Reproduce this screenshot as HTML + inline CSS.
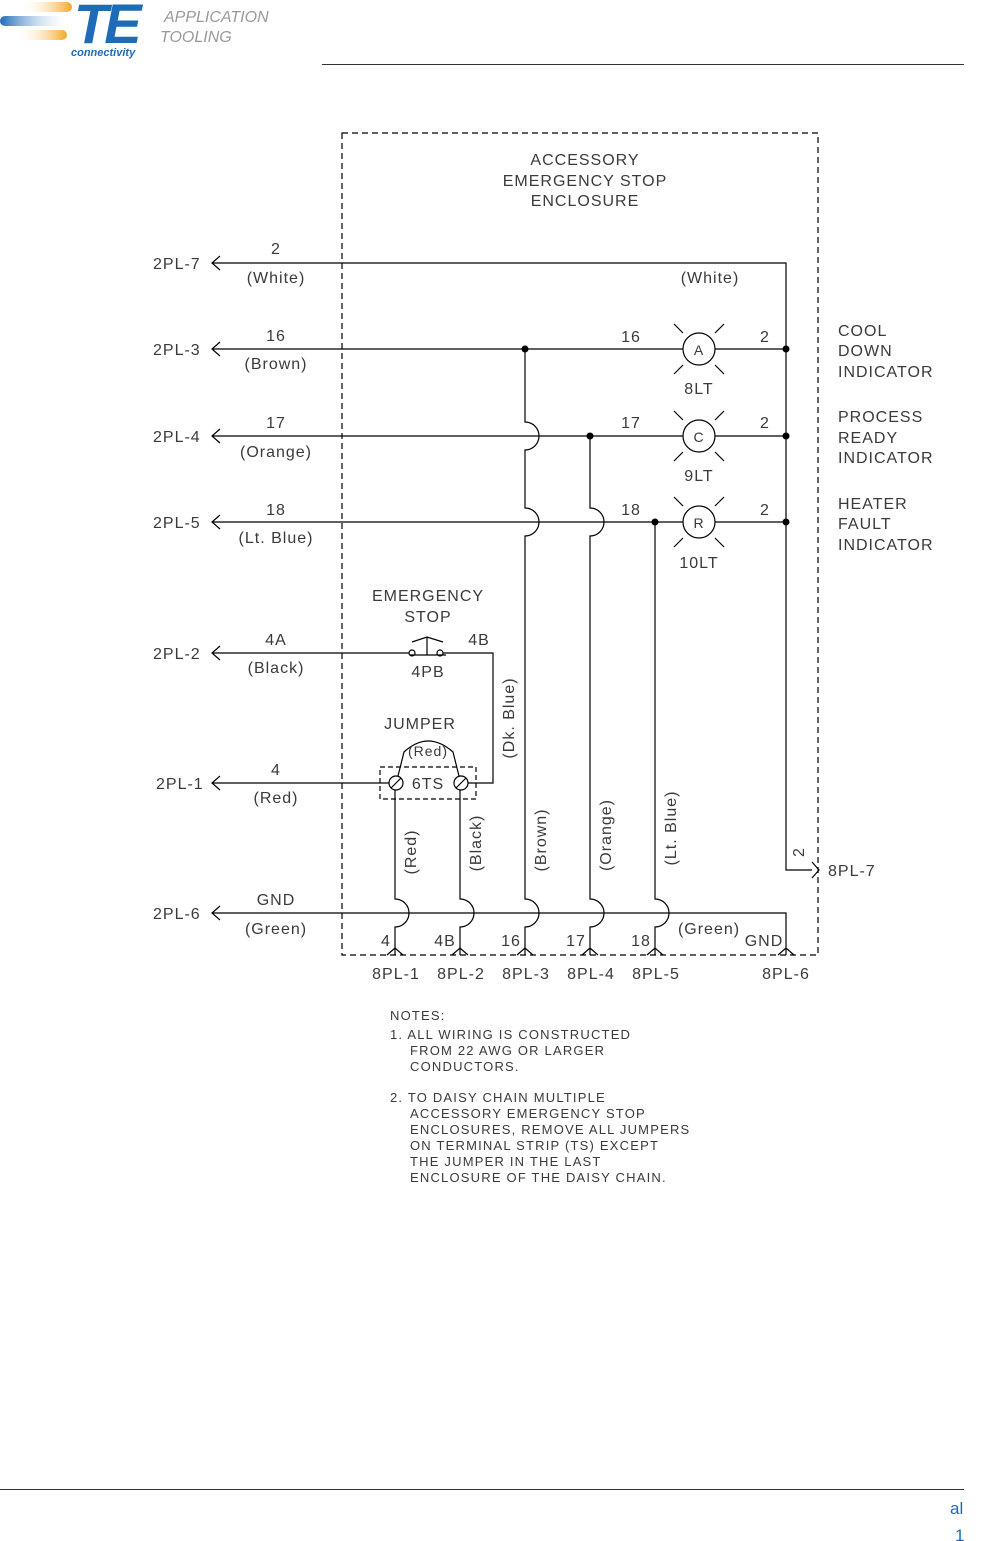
<!DOCTYPE html>
<html><head><meta charset="utf-8"><style>
html,body{margin:0;padding:0;background:#fff;}
svg{display:block;}
text{font-family:"Liberation Sans",sans-serif;fill:#3a3a3a;}
</style></head><body>
<svg width="990" height="1541" viewBox="0 0 990 1541" xmlns="http://www.w3.org/2000/svg">
<defs>
<linearGradient id="go" x1="0" x2="1"><stop offset="0" stop-color="#fff" stop-opacity="0"/><stop offset="1" stop-color="#f5a623"/></linearGradient>
<linearGradient id="gb" x1="0" x2="1"><stop offset="0" stop-color="#1e6bb8"/><stop offset="1" stop-color="#fff" stop-opacity="0.2"/></linearGradient>
</defs>
<!-- header -->
<rect x="20" y="2" width="52" height="10" rx="5" fill="url(#go)"/>
<rect x="0" y="16" width="66" height="10" rx="5" fill="url(#gb)"/>
<rect x="15" y="30" width="52" height="10" rx="5" fill="url(#go)"/>
<text x="74" y="43" font-size="56" font-weight="bold" font-style="italic" style="fill:#1e6bb8" letter-spacing="-4">TE</text>
<text x="71" y="56" font-size="11" font-weight="bold" font-style="italic" style="fill:#1e6bb8">connectivity</text>
<text x="164" y="22" font-size="16" font-style="italic" style="fill:#999">APPLICATION</text>
<text x="160" y="42" font-size="16" font-style="italic" style="fill:#999">TOOLING</text>
<line x1="322" y1="64.5" x2="964" y2="64.5" stroke="#333" stroke-width="1"/>
<line x1="0" y1="1489.5" x2="964" y2="1489.5" stroke="#333" stroke-width="1"/>
<text x="950" y="1514" font-size="17" style="fill:#1e6bb8">al</text>
<text x="955" y="1541" font-size="17" style="fill:#1e6bb8">1</text>

<g stroke="#000" stroke-width="1.2" fill="none">
<rect x="342" y="133" width="476" height="822" stroke-dasharray="6,4"/>
<path d="M220 256 L212 263 L220 270 M220 342 L212 349 L220 356 M220 429 L212 436 L220 443 M220 515 L212 522 L220 529 M220 646 L212 653 L220 660 M220 776 L212 783 L220 790 M220 906 L212 913 L220 920"/>
<path d="M212 263 H786 V870 H812"/>
<path d="M812 862 L819 870 L812 878"/>
<path d="M212 349 H683 M715 349 H786"/>
<path d="M212 436 H683 M715 436 H786"/>
<path d="M212 522 H683 M715 522 H786"/>
<path d="M212 913 H786 V955"/>
<path d="M525 349 V422 A14 14 0 0 1 525 450 V508 A14 14 0 0 1 525 536 V899 A14 14 0 0 1 525 927 V955"/>
<path d="M590 436 V508 A14 14 0 0 1 590 536 V899 A14 14 0 0 1 590 927 V955"/>
<path d="M655 522 V899 A14 14 0 0 1 655 927 V955"/>
<path d="M395 790 V899 A14 14 0 0 1 395 927 V955"/>
<path d="M460 790 V899 A14 14 0 0 1 460 927 V955"/>
<path d="M387 955 L395 948 L403 955 M452 955 L460 948 L468 955 M517 955 L525 948 L533 955 M582 955 L590 948 L598 955 M647 955 L655 948 L663 955 M778 955 L786 948 L794 955"/>
<g>
<circle cx="699" cy="349" r="16"/><circle cx="699" cy="436" r="16"/><circle cx="699" cy="522" r="16"/>
<path d="M674 324 L683 333 M724 324 L715 333 M674 374 L683 365 M724 374 L715 365"/>
<path d="M674 411 L683 420 M724 411 L715 420 M674 461 L683 452 M724 461 L715 452"/>
<path d="M674 497 L683 506 M724 497 L715 506 M674 547 L683 538 M724 547 L715 538"/>
</g>
<path d="M212 653 H409 M443 653 H493 V783 H468"/>
<circle cx="412" cy="653" r="3"/><circle cx="440" cy="653" r="3"/>
<path d="M412 642 L427 637 L443 642 M427 637 V655 M410 655 H446"/>
<rect x="380" y="767" width="96" height="32" stroke-dasharray="5,3"/>
<path d="M212 783 H389"/>
<circle cx="396" cy="783" r="7"/><circle cx="461" cy="783" r="7"/>
<path d="M391 788 L401 778 M456 788 L466 778"/>
<path d="M398 776 L404 752 Q428 730 453 752 L459 776"/>
</g>
<g fill="#000">
<circle cx="525" cy="349" r="3.5"/><circle cx="786" cy="349" r="3.5"/>
<circle cx="590" cy="436" r="3.5"/><circle cx="786" cy="436" r="3.5"/>
<circle cx="655" cy="522" r="3.5"/><circle cx="786" cy="522" r="3.5"/>
</g>

<g font-size="16" letter-spacing="1">
<text x="585" y="165" text-anchor="middle">ACCESSORY</text>
<text x="585" y="186" text-anchor="middle">EMERGENCY  STOP</text>
<text x="585" y="206" text-anchor="middle">ENCLOSURE</text>
<text x="153" y="269">2PL-7</text>
<text x="153" y="355">2PL-3</text>
<text x="153" y="442">2PL-4</text>
<text x="153" y="528">2PL-5</text>
<text x="153" y="659">2PL-2</text>
<text x="156" y="789">2PL-1</text>
<text x="153" y="919">2PL-6</text>
<g text-anchor="middle">
<text x="276" y="254">2</text><text x="276" y="283">(White)</text><text x="710" y="283">(White)</text>
<text x="276" y="341">16</text><text x="276" y="369">(Brown)</text>
<text x="276" y="428">17</text><text x="276" y="457">(Orange)</text>
<text x="276" y="515">18</text><text x="276" y="543">(Lt. Blue)</text>
<text x="276" y="645">4A</text><text x="276" y="673">(Black)</text>
<text x="276" y="775">4</text><text x="276" y="803">(Red)</text>
<text x="276" y="905">GND</text><text x="276" y="934">(Green)</text>
<text x="631" y="342">16</text><text x="765" y="342">2</text>
<text x="631" y="428">17</text><text x="765" y="428">2</text>
<text x="631" y="515">18</text><text x="765" y="515">2</text>
<text x="699" y="355" font-size="14">A</text>
<text x="699" y="442" font-size="14">C</text>
<text x="699" y="528" font-size="14">R</text>
<text x="699" y="394">8LT</text><text x="699" y="481">9LT</text><text x="699" y="568">10LT</text>
<text x="428" y="601">EMERGENCY</text><text x="428" y="622">STOP</text>
<text x="479" y="645">4B</text><text x="428" y="677">4PB</text>
<text x="420" y="729">JUMPER</text><text x="428" y="756" font-size="14">(Red)</text>
<text x="428" y="789">6TS</text>
<text x="709" y="934">(Green)</text>
<text x="764" y="946">GND</text>
<text x="386" y="946">4</text><text x="445" y="946">4B</text><text x="511" y="946">16</text><text x="576" y="946">17</text><text x="641" y="946">18</text>
<text x="396" y="979">8PL-1</text><text x="461" y="979">8PL-2</text><text x="526" y="979">8PL-3</text><text x="591" y="979">8PL-4</text><text x="656" y="979">8PL-5</text><text x="786" y="979">8PL-6</text>
</g>
<text x="828" y="876">8PL-7</text>
<text x="838" y="336">COOL</text><text x="838" y="356">DOWN</text><text x="838" y="377">INDICATOR</text>
<text x="838" y="422">PROCESS</text><text x="838" y="443">READY</text><text x="838" y="463">INDICATOR</text>
<text x="838" y="509">HEATER</text><text x="838" y="529">FAULT</text><text x="838" y="550">INDICATOR</text>
<g text-anchor="middle">
<text transform="translate(514,718) rotate(-90)">(Dk. Blue)</text>
<text transform="translate(416,852) rotate(-90)">(Red)</text>
<text transform="translate(481,843) rotate(-90)">(Black)</text>
<text transform="translate(546,840) rotate(-90)">(Brown)</text>
<text transform="translate(611,835) rotate(-90)">(Orange)</text>
<text transform="translate(676,828) rotate(-90)">(Lt. Blue)</text>
<text transform="translate(804,852) rotate(-90)">2</text>
</g>
</g>
<g font-size="13" letter-spacing="1.2">
<text x="390" y="1020">NOTES:</text>
<text x="390" y="1039">1. ALL  WIRING  IS  CONSTRUCTED</text>
<text x="410" y="1055">FROM  22  AWG  OR  LARGER</text>
<text x="410" y="1071">CONDUCTORS.</text>
<text x="390" y="1102">2. TO  DAISY  CHAIN  MULTIPLE</text>
<text x="410" y="1118">ACCESSORY  EMERGENCY  STOP</text>
<text x="410" y="1134">ENCLOSURES,  REMOVE  ALL  JUMPERS</text>
<text x="410" y="1150">ON  TERMINAL  STRIP  (TS)  EXCEPT</text>
<text x="410" y="1166">THE  JUMPER  IN  THE  LAST</text>
<text x="410" y="1182">ENCLOSURE  OF  THE  DAISY  CHAIN.</text>
</g>
</svg>
</body></html>
